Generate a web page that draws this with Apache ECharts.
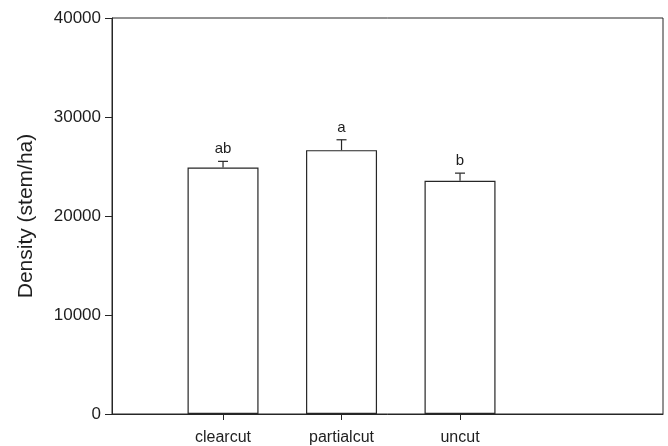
<!DOCTYPE html>
<html>
<head>
<meta charset="utf-8">
<script src="https://cdn.jsdelivr.net/npm/echarts@6/dist/echarts.min.js"></script>
<style>
  html, body { margin: 0; padding: 0; background: #fff; }
  #chart { width: 668px; height: 446px; }
</style>
</head>
<body>
<div id="chart"></div>
<script>
// Stem density by harvest treatment, mean with standard error
const categories = ['clearcut', 'partialcut', 'uncut'];
const densityMean = [24900, 26650, 23550];
const densityError = [620, 1050, 780];
const groupLetters = ['ab', 'a', 'b'];
const yTicks = [0, 10000, 20000, 30000, 40000];

// bars sit at positions 1, 2, 3 on a numeric x scale
const positions = categories.map((c, i) => i + 1);
const barData = positions.map((p, i) => [p, densityMean[i]]);
const errData = positions.map((p, i) => [p, densityMean[i], densityError[i], i]);

const lineColor = '#262626';
const textColor = '#1e1e1e';
const font = 'Liberation Sans, Arial, sans-serif';

const chart = echarts.init(document.getElementById('chart'), null, { renderer: 'canvas' });

chart.setOption({
  animation: false,
  backgroundColor: '#fff',
  grid: {
    left: 112, right: 5, top: 18, bottom: 32,
    show: true, borderColor: lineColor, borderWidth: 1, backgroundColor: 'transparent'
  },
  xAxis: {
    type: 'value',
    min: 0.063,
    max: 4.713,
    splitLine: { show: false },
    axisLine: { show: true, lineStyle: { color: lineColor, width: 1 } },
    axisTick: { show: true, length: 6, customValues: positions, lineStyle: { color: lineColor } },
    axisLabel: {
      customValues: positions,
      formatter: v => categories[Math.round(v) - 1] || '',
      color: textColor, fontSize: 16, fontFamily: font, margin: 16
    }
  },
  yAxis: {
    type: 'value',
    min: yTicks[0],
    max: yTicks[yTicks.length - 1],
    interval: 10000,
    name: 'Density (stem/ha)',
    nameLocation: 'middle',
    nameGap: 75,
    nameTextStyle: { color: textColor, fontSize: 21, fontFamily: font },
    splitLine: { show: false },
    axisLine: { show: true, lineStyle: { color: lineColor, width: 1 } },
    axisTick: { show: true, length: 7, lineStyle: { color: lineColor } },
    axisLabel: {
      formatter: v => String(v),
      color: textColor, fontSize: 17, fontFamily: font, margin: 11
    }
  },
  series: [
    {
      type: 'bar',
      data: barData,
      barWidth: 71,
      itemStyle: { color: '#fff', borderColor: lineColor, borderWidth: 1.2 },
      z: 3
    },
    {
      type: 'custom',
      data: errData,
      z: 4,
      renderItem: (params, api) => {
        const x = api.value(0);
        const m = api.value(1);
        const e = api.value(2);
        const idx = api.value(3);
        const base = api.coord([x, m]);
        const top = api.coord([x, m + e]);
        const half = 5;
        return {
          type: 'group',
          children: [
            { type: 'line', shape: { x1: base[0], y1: base[1], x2: top[0], y2: top[1] },
              style: { stroke: lineColor, lineWidth: 1.2 } },
            { type: 'line', shape: { x1: top[0] - half, y1: top[1], x2: top[0] + half, y2: top[1] },
              style: { stroke: lineColor, lineWidth: 1.2 } },
            { type: 'text', x: top[0], y: top[1] - 12,
              style: { text: groupLetters[idx], fill: textColor, fontSize: 15,
                       fontFamily: font, align: 'center', verticalAlign: 'middle' } }
          ]
        };
      }
    }
  ]
});
</script>
</body>
</html>
